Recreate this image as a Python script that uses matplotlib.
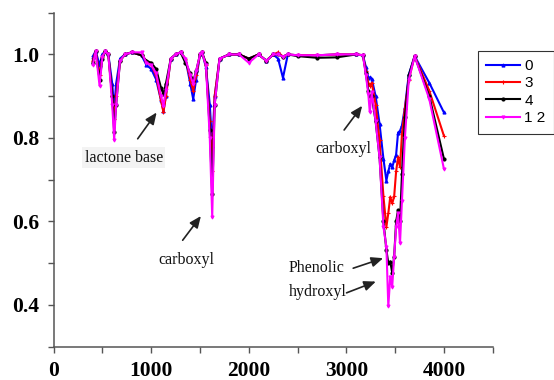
import matplotlib
matplotlib.use("Agg")
import matplotlib.pyplot as plt
from matplotlib.ticker import MultipleLocator, FixedLocator

# Wavenumber (cm-1) sample points
wavenumber = [400, 430, 470, 500, 530, 560, 600, 620, 640, 680, 730, 800, 900, 950,
              1000, 1050, 1100, 1125, 1150, 1200, 1250, 1300, 1350, 1400, 1430, 1460,
              1500, 1520, 1560, 1600, 1625, 1650, 1700, 1800, 1900, 2000, 2100, 2180,
              2250, 2300, 2350, 2400, 2500, 2700, 2900, 3100, 3170, 3200, 3225, 3240,
              3260, 3300, 3340, 3380, 3410, 3430, 3450, 3470, 3490, 3510, 3530, 3550,
              3570, 3600, 3640, 3700, 3850, 4000]

series_0 = [0.995, 1.008, 0.975, 1.000, 1.008, 1.000, 0.930, 0.870, 0.930, 0.990, 1.000,
            1.005, 0.998, 0.975, 0.965, 0.940, 0.890, 0.865, 0.900, 0.990, 1.000, 1.005,
            0.990, 0.930, 0.893, 0.940, 1.000, 1.005, 0.970, 0.880, 0.780, 0.900, 0.990,
            1.000, 1.000, 0.990, 1.000, 0.985, 1.000, 0.990, 0.944, 1.000, 0.998, 0.998,
            1.000, 1.000, 0.998, 0.970, 0.944, 0.945, 0.942, 0.900, 0.834, 0.750, 0.698,
            0.720, 0.738, 0.730, 0.746, 0.760, 0.813, 0.817, 0.830, 0.873, 0.952, 0.996,
            0.932, 0.861]

series_3 = [0.985, 1.008, 0.950, 0.995, 1.008, 1.000, 0.900, 0.845, 0.900, 0.985, 1.000,
            1.005, 0.998, 0.985, 0.975, 0.950, 0.890, 0.862, 0.900, 0.990, 1.000, 1.005,
            0.990, 0.940, 0.913, 0.950, 1.000, 1.005, 0.975, 0.840, 0.720, 0.900, 0.990,
            1.000, 1.000, 0.990, 1.000, 0.985, 1.000, 1.005, 0.995, 1.000, 0.998, 0.998,
            1.000, 1.000, 0.998, 0.960, 0.932, 0.925, 0.932, 0.880, 0.794, 0.660, 0.587,
            0.620, 0.659, 0.643, 0.660, 0.720, 0.754, 0.730, 0.810, 0.870, 0.940, 0.996,
            0.913, 0.805]

series_4 = [0.980, 1.008, 0.940, 0.990, 1.008, 1.000, 0.900, 0.815, 0.880, 0.985, 1.000,
            1.005, 0.998, 0.985, 0.980, 0.965, 0.920, 0.905, 0.930, 0.990, 1.000, 1.005,
            0.980, 0.955, 0.936, 0.960, 1.000, 1.005, 0.980, 0.820, 0.665, 0.880, 0.990,
            1.000, 1.000, 0.990, 1.000, 0.985, 1.000, 1.000, 0.995, 1.000, 0.996, 0.992,
            0.993, 1.000, 0.998, 0.955, 0.913, 0.900, 0.900, 0.840, 0.754, 0.600, 0.532,
            0.500, 0.504, 0.477, 0.516, 0.600, 0.627, 0.600, 0.714, 0.850, 0.950, 0.996,
            0.900, 0.750]

series_12 = [0.975, 1.008, 0.925, 0.995, 1.008, 1.000, 0.880, 0.795, 0.880, 0.985, 1.000,
             1.005, 1.005, 0.980, 0.975, 0.955, 0.900, 0.877, 0.915, 0.990, 1.000, 1.005,
             0.990, 0.950, 0.929, 0.960, 1.000, 1.005, 0.975, 0.800, 0.610, 0.880, 0.990,
             1.000, 1.000, 0.980, 1.000, 0.985, 1.000, 1.000, 0.995, 1.000, 0.998, 0.998,
             1.000, 1.000, 0.998, 0.950, 0.905, 0.862, 0.909, 0.840, 0.754, 0.587, 0.540,
             0.397, 0.468, 0.444, 0.516, 0.587, 0.620, 0.548, 0.650, 0.800, 0.940, 0.996,
             0.893, 0.726]

labels = ["0", "3", "4", "1 2"]
colors = ["#0000ff", "#ff0000", "#000000", "#ff00ff"]
markers = ["^", "+", "o", "v"]

x_ticks = [0, 1000, 2000, 3000, 4000]
y_ticks = [0.4, 0.6, 0.8, 1.0]

fig = plt.figure(figsize=(5.54, 3.8), dpi=100)
ax = fig.add_axes([53.7 / 554, 33.3 / 380, 439 / 554, 334 / 380])

for ys, lab, c, m in zip([series_0, series_3, series_4, series_12], labels, colors, markers):
    ax.plot(wavenumber, ys, color=c, lw=1.5, marker=m, ms=2.2, mew=0.8, label=lab)

ax.set_xlim(0, 4500)
ax.set_ylim(0.3, 1.1)
ax.xaxis.set_major_locator(FixedLocator(x_ticks))
ax.xaxis.set_minor_locator(MultipleLocator(500))
ax.yaxis.set_major_locator(FixedLocator(y_ticks))
ax.yaxis.set_minor_locator(MultipleLocator(0.1))
ax.set_xticklabels([str(v) for v in x_ticks])
ax.set_yticklabels([f"{v:.1f}" for v in y_ticks])

for s in ("top", "right"):
    ax.spines[s].set_visible(False)
for s in ("left", "bottom"):
    ax.spines[s].set_color("#555555")
    ax.spines[s].set_linewidth(1.1)

ax.tick_params(which="both", direction="out", color="#555555", width=1.0)
ax.tick_params(which="major", length=4.5, pad=6)
ax.tick_params(which="minor", length=4.5)
for lbl in ax.get_xticklabels() + ax.get_yticklabels():
    lbl.set_fontfamily("Liberation Serif")
    lbl.set_fontweight("bold")
    lbl.set_fontsize(15.5)

serif = dict(family="Liberation Serif", fontsize=11.5, color="#111111")
arrow = dict(arrowstyle="-|>,head_length=0.7,head_width=0.3", color="#222222", lw=1.2,
             shrinkA=0, shrinkB=0)

# lactone base
ax.text(720, 0.753, "lactone base", ha="center", va="center",
        bbox=dict(boxstyle="square,pad=0.15", fc="#f3f3f3", ec="none"), **serif)
ax.annotate("", xy=(1055, 0.861), xytext=(861, 0.798), arrowprops=arrow)
# carboxyl (left)
ax.text(1363, 0.508, "carboxyl", ha="center", va="center", **serif)
ax.annotate("", xy=(1509, 0.613), xytext=(1322, 0.555), arrowprops=arrow)
# carboxyl (right)
ax.text(2974, 0.774, "carboxyl", ha="center", va="center", **serif)
ax.annotate("", xy=(3162, 0.877), xytext=(2977, 0.819), arrowprops=arrow)
# Phenolic hydroxyl
ax.text(2410, 0.489, "Phenolic", ha="left", va="center", **serif)
ax.annotate("", xy=(3377, 0.512), xytext=(3070, 0.488), arrowprops=arrow)
ax.text(2410, 0.432, "hydroxyl", ha="left", va="center", **serif)
ax.annotate("", xy=(3302, 0.456), xytext=(3002, 0.429), arrowprops=arrow)

leg = fig.legend(loc="upper left", bbox_to_anchor=(477.7 / 554, 1 - 50.7 / 380),
                 prop=dict(family="Liberation Sans", size=11), frameon=True,
                 fancybox=False, borderpad=0.55, handlelength=2.2, handletextpad=0.3,
                 labelspacing=0.22, borderaxespad=0)
leg.get_frame().set_edgecolor("#000000")
leg.get_frame().set_linewidth(0.8)

fig.savefig("out.png", dpi=100)
